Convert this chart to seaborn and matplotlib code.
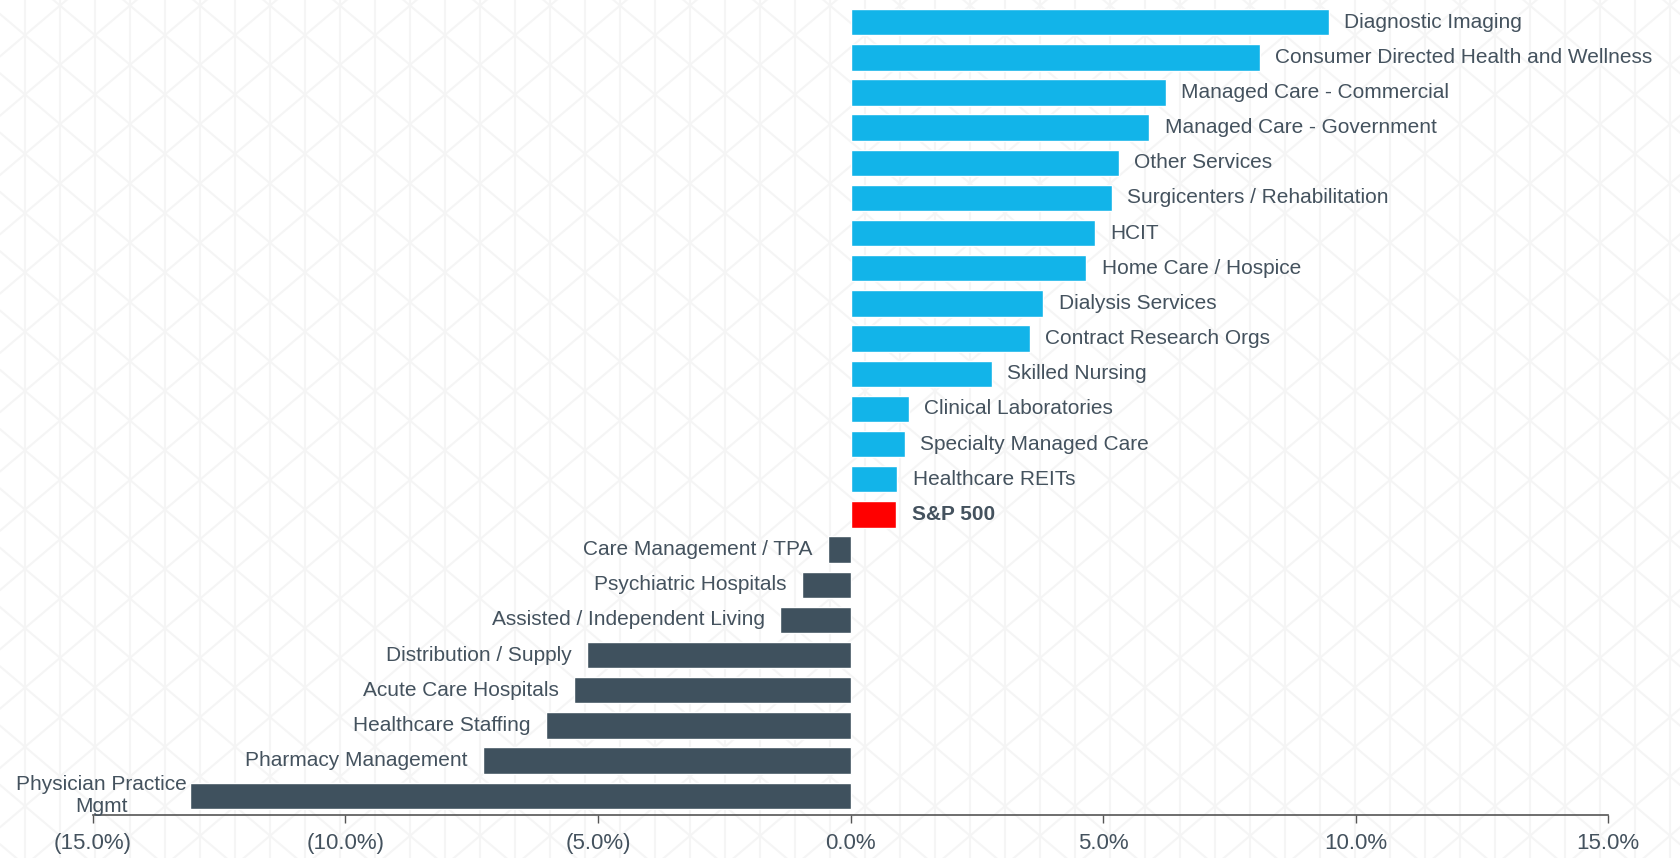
import matplotlib.pyplot as plt
import seaborn as sns
import numpy as np
import pandas as pd

# ---- data ----
sectors = [
    'Diagnostic Imaging', 'Consumer Directed Health and Wellness',
    'Managed Care - Commercial', 'Managed Care - Government', 'Other Services',
    'Surgicenters / Rehabilitation', 'HCIT', 'Home Care / Hospice',
    'Dialysis Services', 'Contract Research Orgs', 'Skilled Nursing',
    'Clinical Laboratories', 'Specialty Managed Care', 'Healthcare REITs',
    'S&P 500', 'Care Management / TPA', 'Psychiatric Hospitals',
    'Assisted / Independent Living', 'Distribution / Supply',
    'Acute Care Hospitals', 'Healthcare Staffing', 'Pharmacy Management',
    'Physician Practice\nMgmt',
]
returns = [
    9.47, 8.11, 6.24, 5.92, 5.31, 5.18, 4.84, 4.67, 3.82, 3.55, 2.80,
    1.15, 1.08, 0.93, 0.91, -0.45, -0.96, -1.40, -5.22, -5.48, -6.03,
    -7.28, -13.08,
]
benchmark = 'S&P 500'
x_ticks = [-15, -10, -5, 0, 5, 10, 15]

BLUE = '#12B4E9'
DARK = '#3F515E'
RED = '#FF0000'
TEXT = '#44525E'

df = pd.DataFrame({'sector': sectors, 'ret': returns})
df['group'] = np.where(df['sector'] == benchmark, 'bench',
                       np.where(df['ret'] >= 0, 'pos', 'neg'))

sns.set_style('white')
plt.rcParams['font.family'] = ['Liberation Sans', 'DejaVu Sans']

fig = plt.figure(figsize=(16.81, 8.58), dpi=100)

# faint triangular background pattern
bg = fig.add_axes([0, 0, 1, 1], zorder=-10)
bg.set_xlim(0, 1681)
bg.set_ylim(858, 0)
bg.axis('off')
pat_col = '#F5F5F5'
for xv in np.arange(25 - 35 * 2, 1700, 35):
    bg.axvline(xv, color=pat_col, lw=1.5)
slope = 29.65 / 35
xs = np.array([0, 1681])
for c in np.arange(14.0 - 59.3 * 30, 900, 59.3):
    bg.plot(xs, slope * xs + c, color=pat_col, lw=1.5)
for c in np.arange(56.4 - 59.3 * 2, 2400, 59.3):
    bg.plot(xs, -slope * xs + c, color=pat_col, lw=1.5)

ax = fig.add_axes([0.0553, 0.05, 0.9013, 0.95])
ax.patch.set_alpha(0)
sns.barplot(data=df, y='sector', x='ret', hue='group', orient='h',
            palette={'pos': BLUE, 'neg': DARK, 'bench': RED},
            width=0.75, dodge=False, legend=False, saturation=1, ax=ax)

# category labels at the end of each bar
for i, (name, val) in enumerate(zip(sectors, returns)):
    bold = 'bold' if name == benchmark else 'normal'
    if val >= 0:
        ax.annotate(name, xy=(val, i), xytext=(11, 0), textcoords='offset points',
                    ha='left', va='center', fontsize=15, color=TEXT, fontweight=bold)
    else:
        pad = -2 if val < -10 else -11
        ax.annotate(name, xy=(val, i), xytext=(pad, 0), textcoords='offset points',
                    ha='right', va='center', fontsize=15, color=TEXT,
                    multialignment='center', fontweight=bold)

ax.set_xlim(-15, 15)
ax.set_ylim(22.55, -0.63)
ax.set_xticks(x_ticks)
ax.set_xticklabels([f'({abs(t):.1f}%)' if t < 0 else f'{t:.1f}%' for t in x_ticks],
                   fontsize=16, color=TEXT)
ax.set_yticks([])
ax.set_xlabel('')
ax.set_ylabel('')
for s in ['top', 'right', 'left']:
    ax.spines[s].set_visible(False)
ax.spines['bottom'].set_color('#555555')
ax.spines['bottom'].set_linewidth(1.2)
ax.tick_params(axis='x', bottom=True, length=6, width=1, color='#555555', pad=7)

plt.savefig('out.png', dpi=100)
plt.close()
